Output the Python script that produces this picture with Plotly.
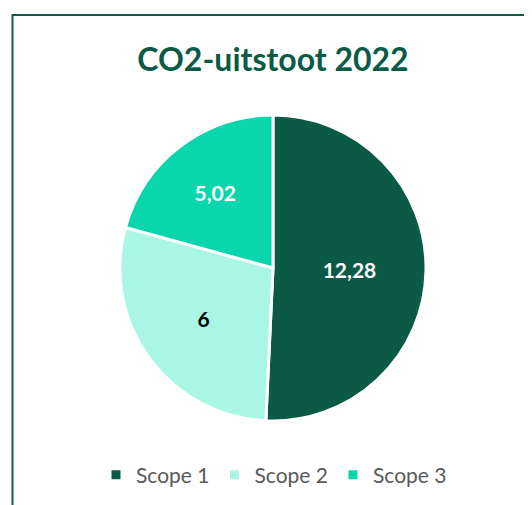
import plotly.graph_objects as go

# data
labels = ["Scope 1", "Scope 2", "Scope 3"]
# slice sizes as measured from the slice angles in the picture
values = [12.28, 6.9, 5.02]
# data labels exactly as printed on the slices
value_text = ["12,28", "6", "5,02"]
colors = ["#0a5a46", "#aaf6e4", "#0ad6ad"]
label_colors = ["white", "black", "white"]

W, H = 532, 505
# the page body has an 8px margin, so shift pixel positions back by that
OFF = 8


def px(x):
    return (x - OFF) / W


def py(y):
    return 1 - (y - OFF) / H


fig = go.Figure()

fig.add_trace(
    go.Pie(
        labels=labels,
        values=values,
        text=value_text,
        sort=False,
        direction="clockwise",
        rotation=0,
        marker=dict(colors=colors, line=dict(color="white", width=3)),
        texttemplate="%{text}",
        textposition="inside",
        insidetextorientation="horizontal",
        insidetextfont=dict(color=label_colors, size=21, family="Lato"),
        textfont=dict(family="Lato", size=21, weight="bold"),
        hoverinfo="label+text",
        domain=dict(x=[px(120), px(426)], y=[py(421), py(115)]),
    )
)

# outer chart frame (only left and top edge are visible in the crop)
fig.add_shape(
    type="rect", xref="paper", yref="paper",
    x0=px(12.5), y0=-0.2, x1=1.2, y1=py(15),
    line=dict(color="#0d5c48", width=2),
    fillcolor="rgba(0,0,0,0)",
)

fig.update_layout(
    width=W, height=H,
    margin=dict(l=0, r=0, t=0, b=0),
    paper_bgcolor="white",
    plot_bgcolor="white",
    title=dict(
        text="<b>CO2-uitstoot 2022</b>",
        x=px(273), xanchor="center",
        y=py(60), yanchor="middle",
        font=dict(family="Lato", size=32, color="#0a5a46"),
    ),
    showlegend=True,
    legend=dict(
        orientation="h",
        x=px(274), xanchor="center",
        y=py(475), yanchor="middle",
        font=dict(family="Lato", size=21, color="#595959"),
        itemwidth=30,
        traceorder="normal",
    ),
)

fig.write_html("out.html")
